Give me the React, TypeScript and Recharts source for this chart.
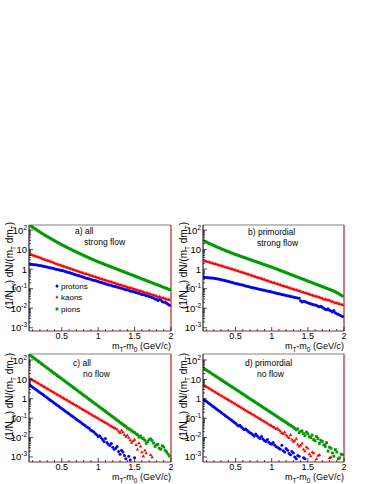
import React from 'react';
import { ScatterChart, Scatter, XAxis, YAxis, ReferenceLine } from 'recharts';

const FONT = '"Liberation Sans", Arial, Helvetica, sans-serif';

// bin centres of m_T - m_0 (GeV/c)
const X_BINS = [0.06,0.08,0.10,0.12,0.14,0.16,0.18,0.20,0.22,0.24,0.26,0.28,0.30,0.32,0.34,0.36,0.38,0.40,0.42,0.44,0.46,0.48,0.50,0.52,0.54,0.56,0.58,0.60,0.62,0.64,0.66,0.68,0.70,0.72,0.74,0.76,0.78,0.80,0.82,0.84,0.86,0.88,0.90,0.92,0.94,0.96,0.98,1.00,1.02,1.04,1.06,1.08,1.10,1.12,1.14,1.16,1.18,1.20,1.22,1.24,1.26,1.28,1.30,1.32,1.34,1.36,1.38,1.40,1.42,1.44,1.46,1.48,1.50,1.52,1.54,1.56,1.58,1.60,1.62,1.64,1.66,1.68,1.70,1.72,1.74,1.76,1.78,1.80,1.82,1.84,1.86,1.88,1.90,1.92,1.94,1.96,1.98];

// a) all, strong flow
const A_PROTONS = [1.78,1.77,1.74,1.7,1.66,1.62,1.58,1.53,1.48,1.43,1.38,1.34,1.29,1.22,1.17,1.14,1.10,1.04,1.0,0.97,0.93,0.88,0.85,0.82,0.78,0.73,0.69,0.67,0.63,0.59,0.56,0.53,0.50,0.48,0.46,0.43,0.41,0.38,0.36,0.345,0.33,0.315,0.30,0.28,0.27,0.26,0.245,0.23,0.22,0.21,0.20,0.19,0.18,0.17,0.16,0.155,0.148,0.138,0.132,0.129,0.123,0.115,0.11,0.106,0.10,0.093,0.089,0.087,0.083,0.077,0.074,0.072,0.068,0.063,0.060,0.058,0.055,0.051,0.050,0.047,0.044,0.043,0.040,0.037,0.035,0.033,0.030,0.029,0.025,0.028,0.026,0.022,0.020,0.021,0.018,0.016,0.014];
const A_KAONS = [6.0,5.65,5.3,4.98,4.7,4.38,4.1,3.88,3.65,3.4,3.2,3.03,2.84,2.66,2.5,2.36,2.21,2.07,1.95,1.84,1.72,1.6,1.51,1.43,1.35,1.27,1.2,1.13,1.07,1.01,0.955,0.9,0.851,0.8,0.759,0.718,0.676,0.635,0.603,0.572,0.537,0.505,0.479,0.455,0.427,0.401,0.38,0.36,0.339,0.32,0.305,0.29,0.274,0.259,0.247,0.236,0.222,0.21,0.2,0.19,0.179,0.168,0.161,0.153,0.145,0.137,0.131,0.122,0.117,0.111,0.106,0.1,0.095,0.091,0.0855,0.081,0.0769,0.074,0.0692,0.064,0.0622,0.059,0.056,0.053,0.0504,0.047,0.0453,0.042,0.0385,0.04,0.0366,0.033,0.034,0.031,0.0285,0.029,0.0267];
const A_PIONS = [178,158,140,125,111,99,88.5,79,71.1,64,57.4,51.7,46.7,42.2,38.1,34.5,31.3,28.4,25.8,23.4,21.3,19.4,17.7,16.2,14.9,13.6,12.5,11.5,10.6,9.7,8.93,8.2,7.57,6.97,6.43,5.93,5.47,5.05,4.67,4.31,3.99,3.69,3.42,3.17,2.94,2.72,2.53,2.36,2.21,2.07,1.94,1.81,1.69,1.58,1.48,1.39,1.30,1.22,1.14,1.06,0.993,0.929,0.869,0.812,0.760,0.711,0.665,0.622,0.582,0.545,0.509,0.477,0.446,0.417,0.390,0.365,0.341,0.319,0.299,0.279,0.261,0.244,0.229,0.214,0.200,0.187,0.175,0.164,0.153,0.143,0.134,0.125,0.117,0.109,0.103,0.096,0.0897];

// b) primordial, strong flow
const B_PROTONS = [0.38,0.375,0.37,0.365,0.36,0.355,0.35,0.34,0.33,0.32,0.31,0.3,0.29,0.28,0.27,0.257,0.245,0.234,0.224,0.214,0.204,0.195,0.186,0.18,0.174,0.165,0.158,0.152,0.145,0.138,0.132,0.128,0.123,0.116,0.112,0.109,0.105,0.099,0.095,0.092,0.089,0.086,0.083,0.079,0.076,0.074,0.071,0.068,0.065,0.062,0.06,0.057,0.055,0.053,0.051,0.049,0.047,0.045,0.044,0.042,0.04,0.039,0.037,0.035,0.034,0.033,0.032,0.024,0.021,0.023,0.022,0.02,0.019,0.018,0.017,0.016,0.015,0.0145,0.014,0.0125,0.0117,0.0124,0.0112,0.0098,0.0089,0.0084,0.0095,0.0078,0.0071,0.0064,0.0076,0.0058,0.0052,0.0049,0.0045,0.0041,0.0038];
const B_KAONS = [2.75,2.63,2.51,2.4,2.29,2.18,2.07,1.96,1.86,1.77,1.68,1.59,1.51,1.43,1.36,1.29,1.23,1.17,1.11,1.05,1.0,0.95,0.9,0.85,0.805,0.76,0.72,0.68,0.643,0.61,0.574,0.54,0.513,0.485,0.458,0.432,0.409,0.387,0.366,0.346,0.327,0.309,0.292,0.276,0.261,0.246,0.233,0.22,0.208,0.197,0.186,0.176,0.167,0.158,0.15,0.141,0.134,0.127,0.12,0.114,0.108,0.102,0.0966,0.091,0.0865,0.082,0.0776,0.073,0.0695,0.066,0.0622,0.059,0.0558,0.053,0.05,0.047,0.0449,0.0425,0.0402,0.038,0.036,0.034,0.0324,0.0285,0.029,0.0275,0.026,0.0262,0.0233,0.022,0.0209,0.0185,0.0187,0.0177,0.0167,0.0158,0.015];
const B_PIONS = [28.2,26,23.9,22,20.3,18.8,17.4,16.1,14.9,13.8,12.9,12,11.1,10.3,9.66,9.0,8.39,7.83,7.31,6.84,6.4,6.0,5.62,5.3,4.99,4.7,4.43,4.17,3.93,3.7,3.48,3.28,3.09,2.91,2.74,2.58,2.43,2.29,2.16,2.03,1.91,1.8,1.7,1.6,1.51,1.42,1.34,1.26,1.19,1.11,1.04,0.975,0.912,0.855,0.8,0.748,0.7,0.656,0.615,0.576,0.54,0.505,0.473,0.443,0.415,0.389,0.364,0.34,0.319,0.3,0.28,0.262,0.245,0.229,0.215,0.202,0.189,0.177,0.166,0.155,0.145,0.136,0.127,0.12,0.112,0.104,0.098,0.092,0.086,0.08,0.075,0.069,0.062,0.058,0.052,0.046,0.042];

// c) all, no flow
const C_PROTONS = [5.13,4.52,3.98,3.5,3.09,2.72,2.4,2.11,1.86,1.64,1.45,1.27,1.12,0.985,0.871,0.767,0.676,0.595,0.525,0.462,0.407,0.358,0.316,0.278,0.245,0.216,0.191,0.168,0.148,0.13,0.115,0.101,0.0891,0.078,0.0692,0.061,0.0537,0.047,0.0417,0.036,0.0324,0.029,0.024,0.022,0.02,0.016,0.0141,0.0112,0.0126,0.0098,0.0079,0.0063,0.0089,0.0056,0.0045,0.0039,0.005,0.0032,0.0025,0.0028,0.0035,0.0019,0.0014,0.0022,0.0018,0.0012,0.0008,null,0.0011,0.0007,null,null,0.0009,null,null,null,null,null,null,null,null,null,null,null,null,null,null,null,null,null,null,null,null,null,null,null,null];
const C_KAONS = [11.5,10.4,9.38,8.48,7.66,6.93,6.25,5.65,5.1,4.61,4.17,3.77,3.4,3.08,2.78,2.51,2.27,2.05,1.85,1.67,1.51,1.37,1.24,1.12,1.01,0.915,0.824,0.745,0.673,0.608,0.55,0.497,0.449,0.406,0.366,0.331,0.299,0.27,0.244,0.221,0.2,0.18,0.163,0.147,0.133,0.12,0.109,0.098,0.0887,0.08,0.0724,0.065,0.0592,0.054,0.0483,0.043,0.0394,0.036,0.0316,0.03,0.0269,0.021,0.0178,0.024,0.019,0.014,0.0112,0.0132,0.01,0.0075,0.0056,0.0068,0.0079,0.0042,0.0025,0.0052,0.0035,0.0018,0.0011,0.0022,0.0016,null,null,0.0013,0.001,null,null,null,null,null,null,null,null,null,null,null,null];
const C_PIONS = [182,160,141,124,109,96,84,74,64.9,57,50.1,44,38.7,34,29.9,26.3,23.1,20.3,17.9,15.7,13.8,12.2,10.7,9.4,8.24,7.25,6.37,5.6,4.92,4.32,3.8,3.34,2.94,2.58,2.27,2.0,1.75,1.54,1.36,1.2,1.05,0.92,0.81,0.71,0.625,0.55,0.483,0.425,0.373,0.33,0.288,0.253,0.223,0.196,0.172,0.151,0.133,0.117,0.103,0.09,0.079,0.07,0.061,0.054,0.047,0.042,0.037,0.031,0.028,0.026,0.022,0.02,0.018,0.0155,0.014,0.0105,0.012,0.0095,0.0089,0.0072,0.005,0.0062,0.0079,0.0085,0.0071,0.0052,0.0035,0.0041,0.0045,0.0028,0.0025,0.0038,0.0032,0.0022,0.0018,0.0014,0.0011];

// d) primordial, no flow
const D_PROTONS = [0.933,0.82,0.721,0.634,0.557,0.49,0.431,0.379,0.333,0.293,0.257,0.226,0.199,0.175,0.153,0.135,0.119,0.104,0.0916,0.081,0.0708,0.062,0.055,0.046,0.0398,0.043,0.0355,0.03,0.0263,0.028,0.024,0.02,0.0178,0.0162,0.0141,0.012,0.0151,0.0126,0.01,0.0089,0.0112,0.0084,0.0071,0.0063,0.0079,0.0058,0.005,0.0045,0.0056,0.0041,0.0035,0.0032,0.0028,0.0025,0.004,0.0021,0.0018,0.0027,0.0022,0.0015,0.0013,0.0019,0.0016,0.001,0.0008,0.0012,0.0011,null,null,0.0009,0.0008,null,null,null,null,null,null,null,null,null,null,null,null,null,null,null,null,null,null,null,null,null,null,null,null,null,null];
const D_KAONS = [5.13,4.63,4.17,3.76,3.4,3.07,2.76,2.49,2.25,2.03,1.83,1.65,1.49,1.34,1.21,1.09,0.984,0.888,0.802,0.723,0.652,0.588,0.53,0.478,0.431,0.389,0.351,0.317,0.286,0.258,0.232,0.209,0.189,0.171,0.154,0.139,0.125,0.113,0.102,0.092,0.0828,0.075,0.0673,0.061,0.0548,0.049,0.0446,0.04,0.0363,0.033,0.0282,0.03,0.0251,0.021,0.0178,0.0158,0.0191,0.0135,0.0112,0.0098,0.0141,0.0079,0.0063,0.0071,0.0089,0.0045,0.0035,0.004,0.005,0.0025,0.002,0.0032,0.0028,0.0014,0.0011,0.0018,0.0016,null,0.0008,0.0012,0.0013,null,null,null,0.0045,null,null,0.0009,0.001,null,null,null,null,null,null,null,null];
const D_PIONS = [37.2,33.2,29.6,26.5,23.7,21.2,18.9,16.9,15.1,13.5,12.0,10.7,9.59,8.57,7.66,6.84,6.11,5.46,4.88,4.36,3.89,3.47,3.1,2.77,2.48,2.22,1.98,1.77,1.58,1.41,1.26,1.12,1.0,0.895,0.8,0.715,0.64,0.571,0.51,0.456,0.41,0.365,0.325,0.29,0.26,0.232,0.207,0.185,0.165,0.148,0.132,0.118,0.105,0.094,0.084,0.075,0.067,0.06,0.053,0.047,0.043,0.038,0.034,0.029,0.025,0.028,0.018,0.021,0.022,0.016,0.0126,0.019,0.0158,0.0112,0.01,0.0135,0.0079,0.0068,0.0112,0.0089,0.005,0.0071,0.0063,0.0042,0.0035,0.0055,0.002,0.0032,0.0028,0.0016,0.0011,0.0024,0.0018,0.0008,0.0009,0.0014,0.0013];

const SPECIES = ['protons', 'kaons', 'pions'];
const COLORS: Record<string, string> = { protons: '#0000ff', kaons: '#ff0000', pions: '#009900' };

const X_TICKS = [0.1,0.2,0.3,0.4,0.5,0.6,0.7,0.8,0.9,1,1.1,1.2,1.3,1.4,1.5,1.6,1.7,1.8,1.9,2];
const X_MAJOR = [0.5, 1, 1.5, 2];
const X_LABELS = ['0.5', '1', '1.5', '2'];
const Y_MAJOR = [0.001, 0.01, 0.1, 1, 10, 100];
const Y_BASE = ['10', '10', '10', '1', '10', '10'];
const Y_EXP = ['-3', '-2', '-1', '', '', '2'];
const Y_MINOR = [0.002,0.003,0.004,0.005,0.006,0.007,0.008,0.009,0.02,0.03,0.04,0.05,0.06,0.07,0.08,0.09,0.2,0.3,0.4,0.5,0.6,0.7,0.8,0.9,2,3,4,5,6,7,8,9,20,30,40,50,60,70,80,90];

const PANELS = [
  { id: 'a', left: 0, top: 215, width: 180, height: 140, lo: 0.00068, hi: 182, series: [A_PROTONS, A_KAONS, A_PIONS], line1: 'a) all', line2: 'strong flow' },
  { id: 'b', left: 174, top: 215, width: 179, height: 140, lo: 0.00068, hi: 182, series: [B_PROTONS, B_KAONS, B_PIONS], line1: 'b) primordial', line2: 'strong flow' },
  { id: 'c', left: 0, top: 344, width: 180, height: 142, lo: 0.00055, hi: 204, series: [C_PROTONS, C_KAONS, C_PIONS], line1: 'c) all', line2: 'no flow' },
  { id: 'd', left: 174, top: 344, width: 179, height: 142, lo: 0.00055, hi: 204, series: [D_PROTONS, D_KAONS, D_PIONS], line1: 'd) primordial', line2: 'no flow' },
];

const MARGIN = { top: 10, right: 9, bottom: 10, left: 4 };
const YAXIS_W = 25;
const XAXIS_H = 14;

function toPoints(vals: (number | null)[]) {
  const out: { x: number; y: number }[] = [];
  X_BINS.forEach((x, i) => {
    const v = vals[i];
    if (v != null) out.push({ x, y: v });
  });
  return out;
}

function markerShape(kind: string) {
  const color = COLORS[kind];
  return (p: any) => {
    const { cx, cy } = p;
    if (cx == null || cy == null || isNaN(cx) || isNaN(cy)) return <g />;
    if (kind === 'protons') return <circle cx={cx} cy={cy} r={1.5} fill={color} />;
    if (kind === 'kaons') return <path d={`M${cx},${cy - 1.8}L${cx + 1.7},${cy + 1.2}L${cx - 1.7},${cy + 1.2}Z`} fill={color} />;
    return <rect x={cx - 1.4} y={cy - 1.4} width={2.8} height={2.8} fill={color} />;
  };
}

const xTick = (props: any) => {
  const { x, y, payload } = props;
  const idx = X_MAJOR.indexOf(payload.value);
  const major = idx >= 0;
  return (
    <g>
      <line x1={x} x2={x} y1={y} y2={y - (major ? 4 : 2)} stroke="#000" strokeWidth={0.7} />
      {major && (
        <text x={x} y={y + 7.5} textAnchor="middle" fontSize={9} fontFamily={FONT} fill="#000">{X_LABELS[idx]}</text>
      )}
    </g>
  );
};

const yTick = (props: any) => {
  const { x, y, payload } = props;
  const idx = Y_MAJOR.indexOf(payload.value);
  const major = idx >= 0;
  return (
    <g>
      <line x1={x} x2={x + (major ? 4 : 2)} y1={y} y2={y} stroke="#000" strokeWidth={0.7} />
      {major && (
        <text x={x - 2} y={y + 3.5} textAnchor="end" fontSize={9.5} fontFamily={FONT} fill="#000">
          <tspan>{Y_BASE[idx]}</tspan>
          {Y_EXP[idx] ? <tspan dy={-4} fontSize={6.5}>{Y_EXP[idx]}</tspan> : null}
        </text>
      )}
    </g>
  );
};

function Panel({ p }: { p: typeof PANELS[number] }) {
  const yTicks = [...Y_MAJOR, ...Y_MINOR].filter((v) => v >= p.lo && v <= p.hi).sort((a, b) => a - b);
  return (
    <div style={{ position: 'absolute', left: p.left, top: p.top }}>
      <ScatterChart width={p.width} height={p.height} margin={MARGIN}>
        <XAxis
          type="number"
          dataKey="x"
          domain={[0.05, 2]}
          allowDataOverflow
          ticks={X_TICKS}
          interval={0}
          tickSize={0}
          tickMargin={0}
          tick={xTick}
          height={XAXIS_H}
          axisLine={{ stroke: '#7a3434', strokeWidth: 1 }}
          tickLine={false}
        />
        <YAxis
          type="number"
          dataKey="y"
          scale="log"
          domain={[p.lo, p.hi]}
          allowDataOverflow
          ticks={yTicks}
          interval={0}
          tickSize={0}
          tickMargin={0}
          tick={yTick}
          width={YAXIS_W}
          axisLine={{ stroke: '#000', strokeWidth: 1 }}
          tickLine={false}
        />
        <ReferenceLine y={p.hi} stroke="#808080" strokeWidth={1} />
        <ReferenceLine x={2} stroke="#b22222" strokeWidth={1.2} />
        {SPECIES.map((s, i) => (
          <Scatter
            key={s}
            name={s}
            data={toPoints(p.series[i])}
            fill={COLORS[s]}
            shape={markerShape(s)}
            isAnimationActive={false}
          />
        ))}
      </ScatterChart>
    </div>
  );
}

function SubText({ parts }: { parts: [string, boolean][] }) {
  return (
    <>
      {parts.map(([t, sub], i) => {
        const prevSub = i > 0 && parts[i - 1][1];
        const dy = sub && !prevSub ? 2.5 : !sub && prevSub ? -2.5 : 0;
        return (
          <tspan key={i} dy={dy} fontSize={sub ? 6.5 : undefined}>{t}</tspan>
        );
      })}
    </>
  );
}

const XTITLE: [string, boolean][] = [['m', false], ['T', true], ['-m', false], ['0', true], [' (GeV/c)', false]];
const YTITLE: [string, boolean][] = [['(1/N', false], ['ev', true], [') dN/(m', false], ['T', true], [' dm', false], ['T', true], [')', false]];

function Overlay() {
  const ann = [
    { x1: 75, x2: 84, y: 234, p: PANELS[0] },
    { x1: 248, x2: 257, y: 235, p: PANELS[1] },
    { x1: 73, x2: 83, y: 366, p: PANELS[2] },
    { x1: 245, x2: 257, y: 366, p: PANELS[3] },
  ];
  const xt = [
    { x: 171, y: 349 }, { x: 344, y: 349 }, { x: 171, y: 480 }, { x: 344, y: 480 },
  ];
  const yt = [
    { x: 13, y: 222 }, { x: 187, y: 222 }, { x: 13, y: 353 }, { x: 187, y: 353 },
  ];
  const legendY = [286, 297, 309];
  return (
    <svg width={374} height={484} style={{ position: 'absolute', left: 0, top: 0, pointerEvents: 'none' }} fontFamily={FONT}>
      {ann.map((a, i) => (
        <g key={i} fontSize={8.5} fill="#000">
          <text x={a.x1} y={a.y}>{a.p.line1}</text>
          <text x={a.x2} y={a.y + 10.5}>{a.p.line2}</text>
        </g>
      ))}
      {xt.map((t, i) => (
        <text key={i} x={t.x} y={t.y} textAnchor="end" fontSize={9} fill="#000">
          <SubText parts={XTITLE} />
        </text>
      ))}
      {yt.map((t, i) => (
        <text key={i} transform={`translate(${t.x},${t.y}) rotate(-90)`} textAnchor="end" fontSize={10} fill="#000">
          <SubText parts={YTITLE} />
        </text>
      ))}
      {SPECIES.map((s, i) => {
        const cx = 57;
        const cy = legendY[i];
        const shape = markerShape(s)({ cx, cy });
        return (
          <g key={s}>
            {shape}
            <text x={61} y={cy + 3} fontSize={8} fill="#000">{s}</text>
          </g>
        );
      })}
    </svg>
  );
}

export default function App() {
  return (
    <div style={{ position: 'absolute', left: 0, top: 0, width: 374, height: 484, background: '#fff', fontFamily: FONT }}>
      {PANELS.map((p) => (
        <Panel key={p.id} p={p} />
      ))}
      <Overlay />
    </div>
  );
}
